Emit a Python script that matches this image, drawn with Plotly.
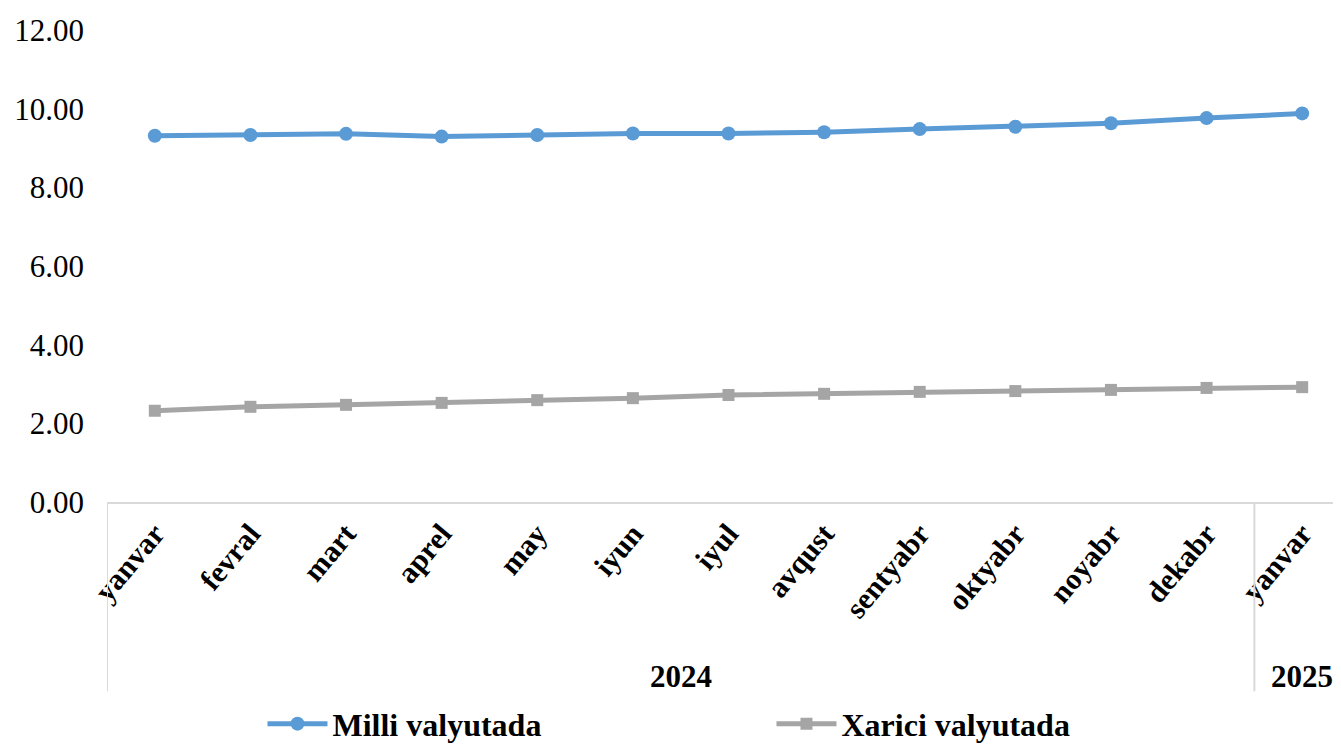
import plotly.graph_objects as go

months = ["yanvar", "fevral", "mart", "aprel", "may", "iyun", "iyul", "avqust",
          "sentyabr", "oktyabr", "noyabr", "dekabr", "yanvar"]
years = ["2024", "2025"]
milli = [9.31, 9.33, 9.36, 9.29, 9.33, 9.37, 9.37, 9.40, 9.48, 9.54, 9.63, 9.76, 9.88]
xarici = [2.32, 2.42, 2.47, 2.52, 2.59, 2.64, 2.72, 2.75, 2.80, 2.82, 2.85, 2.90, 2.92]

xs = list(range(len(months)))
FONT = "Liberation Serif, Times New Roman, serif"

fig = go.Figure()
fig.add_trace(go.Scatter(x=xs, y=milli, name="<b>Milli valyutada</b>", mode="lines+markers",
                         line=dict(color="#5b9bd5", width=5),
                         marker=dict(symbol="circle", size=14, color="#5b9bd5")))
fig.add_trace(go.Scatter(x=xs, y=xarici, name="<b>Xarici valyutada</b>", mode="lines+markers",
                         line=dict(color="#a5a5a5", width=5),
                         marker=dict(symbol="square", size=12, color="#a5a5a5")))

# separators of the two-level category axis
for xv in [-0.5, 11.5]:
    fig.add_shape(type="line", xref="x", yref="paper", x0=xv, x1=xv, y0=0, y1=-0.401,
                  line=dict(color="#d9d9d9", width=2))
fig.add_annotation(x=5.5, y=-0.369, xref="x", yref="paper", yanchor="middle",
                   text="<b>%s</b>" % years[0],
                   showarrow=False, font=dict(family=FONT, size=31, color="black"))
fig.add_annotation(x=12, y=-0.369, xref="x", yref="paper", yanchor="middle",
                   text="<b>%s</b>" % years[1],
                   showarrow=False, font=dict(family=FONT, size=31, color="black"))

fig.update_layout(
    width=1333, height=739,
    margin=dict(l=99, r=0, t=22, b=245, autoexpand=False),
    plot_bgcolor="white", paper_bgcolor="white",
    font=dict(family=FONT, color="black"),
    showlegend=True,
    legend=dict(orientation="h", x=0.126, xanchor="left", y=-0.47, yanchor="middle",
                font=dict(family=FONT, size=32, color="black"),
                entrywidth=434, itemwidth=60),
    xaxis=dict(range=[-0.5, 12.406], tickvals=xs,
               ticktext=["<b>%s</b>" % m for m in months],
               tickangle=-50, tickfont=dict(family=FONT, size=30, color="black"),
               showgrid=False, zeroline=False, showline=True, linecolor="#d9d9d9",
               linewidth=2, ticks="", automargin=False, ticklabelstandoff=0),
    yaxis=dict(range=[0, 12], tickvals=[0, 2, 4, 6, 8, 10, 12],
               ticktext=["%.2f" % v for v in [0, 2, 4, 6, 8, 10, 12]],
               tickfont=dict(family=FONT, size=31, color="black"),
               showgrid=False, zeroline=False, showline=False, ticks="",
               ticklabelstandoff=22, automargin=False),
)

fig.write_html("out.html")
